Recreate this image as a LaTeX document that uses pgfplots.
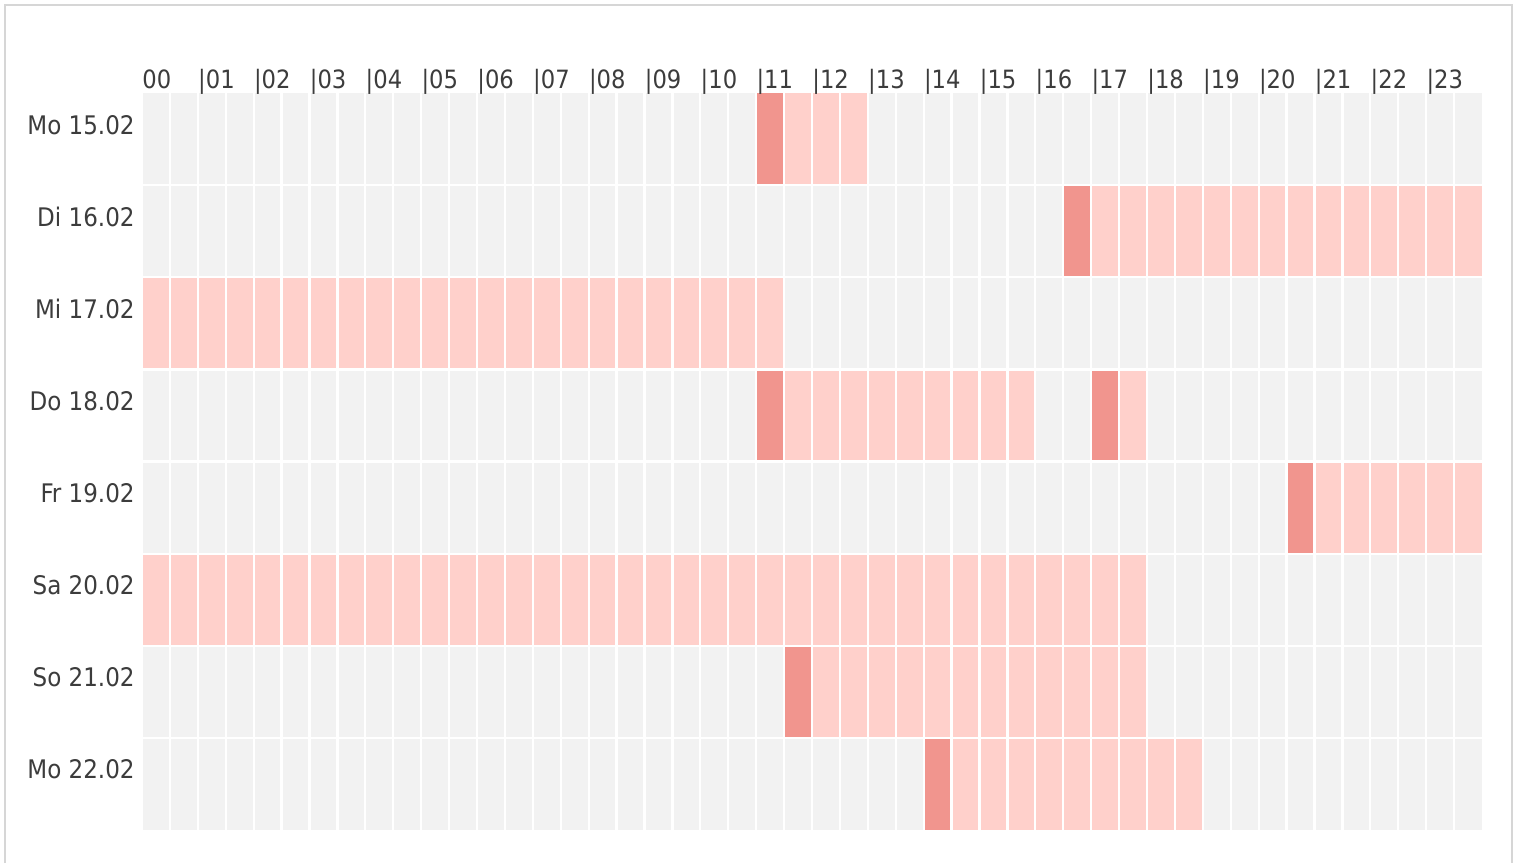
\documentclass[border=0pt]{standalone}
\usepackage{pgfplots}
\pgfplotsset{compat=1.18}
\usepackage{fontspec}
\setmainfont{DejaVu Sans Condensed}
\definecolor{cgrey}{HTML}{F2F2F2}
\definecolor{clight}{HTML}{FFD0CB}
\definecolor{cdark}{HTML}{F1958E}
\definecolor{ctext}{HTML}{3C3C3C}
\definecolor{cframe}{HTML}{D6D6D6}
\begin{document}
\begin{tikzpicture}
\useasboundingbox (0pt,0pt) rectangle (757pt,-431.5pt);
\draw[cframe, line width=0.8pt] (2.5pt,-431.5pt) -- (2.5pt,-2.5pt) -- (756pt,-2.5pt) -- (756pt,-431.5pt);
\begin{axis}[
  at={(71pt,-415pt)}, anchor=south west,
  scale only axis, width=670pt, height=368.5pt,
  xmin=0, xmax=48, ymin=0, ymax=8, y dir=reverse,
  axis background/.style={fill=cgrey},
  axis on top,
  axis line style={draw=none},
  tick style={draw=none},
  major tick length=0pt, minor tick length=0pt,
  xticklabel pos=top,
  xtick={0,2,...,46},
  minor xtick={1,3,...,47},
  xticklabels={00,|01,|02,|03,|04,|05,|06,|07,|08,|09,|10,|11,|12,|13,|14,|15,|16,|17,|18,|19,|20,|21,|22,|23},
  xmajorgrids, xminorgrids,
  ytick={0.445,1.445,2.445,3.445,4.445,5.445,6.445,7.445},
  yticklabels={Mo 15.02,Di 16.02,Mi 17.02,Do 18.02,Fr 19.02,Sa 20.02,So 21.02,Mo 22.02},
  minor ytick={1,2,3,4,5,6,7},
  yminorgrids, ymajorgrids=false,
  grid style={white, line width=1.1pt},
  major grid style={white, line width=1.1pt},
  minor grid style={white, line width=1.1pt},
  xticklabel style={anchor=base west, inner sep=0pt, yshift=2.5pt, text=ctext, font=\fontsize{12.6}{14}\selectfont},
  yticklabel style={anchor=base east, inner sep=0pt, xshift=-3.5pt, text=ctext, font=\fontsize{12.8}{14}\selectfont},
  clip=false,
]
% Mo 15.02
\addplot[fill=cdark, draw=none] coordinates {(22,0) (23,0) (23,1) (22,1)} --cycle;
\addplot[fill=clight, draw=none] coordinates {(23,0) (26,0) (26,1) (23,1)} --cycle;
% Di 16.02
\addplot[fill=cdark, draw=none] coordinates {(33,1) (34,1) (34,2) (33,2)} --cycle;
\addplot[fill=clight, draw=none] coordinates {(34,1) (48,1) (48,2) (34,2)} --cycle;
% Mi 17.02
\addplot[fill=clight, draw=none] coordinates {(0,2) (23,2) (23,3) (0,3)} --cycle;
% Do 18.02
\addplot[fill=cdark, draw=none] coordinates {(22,3) (23,3) (23,4) (22,4)} --cycle;
\addplot[fill=clight, draw=none] coordinates {(23,3) (32,3) (32,4) (23,4)} --cycle;
\addplot[fill=cdark, draw=none] coordinates {(34,3) (35,3) (35,4) (34,4)} --cycle;
\addplot[fill=clight, draw=none] coordinates {(35,3) (36,3) (36,4) (35,4)} --cycle;
% Fr 19.02
\addplot[fill=cdark, draw=none] coordinates {(41,4) (42,4) (42,5) (41,5)} --cycle;
\addplot[fill=clight, draw=none] coordinates {(42,4) (48,4) (48,5) (42,5)} --cycle;
% Sa 20.02
\addplot[fill=clight, draw=none] coordinates {(0,5) (36,5) (36,6) (0,6)} --cycle;
% So 21.02
\addplot[fill=cdark, draw=none] coordinates {(23,6) (24,6) (24,7) (23,7)} --cycle;
\addplot[fill=clight, draw=none] coordinates {(24,6) (36,6) (36,7) (24,7)} --cycle;
% Mo 22.02
\addplot[fill=cdark, draw=none] coordinates {(28,7) (29,7) (29,8) (28,8)} --cycle;
\addplot[fill=clight, draw=none] coordinates {(29,7) (38,7) (38,8) (29,8)} --cycle;
\end{axis}
\end{tikzpicture}
\end{document}
